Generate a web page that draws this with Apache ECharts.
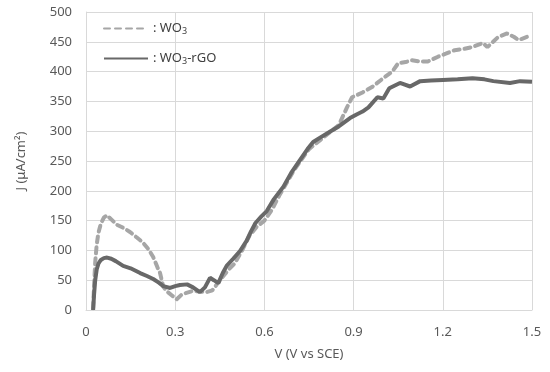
<!DOCTYPE html>
<html>
<head>
<meta charset="utf-8">
<script src="https://cdn.jsdelivr.net/npm/echarts@6/dist/echarts.min.js"></script>
<style>
  html, body { margin: 0; padding: 0; background: #fff; }
  #chart { width: 550px; height: 372px; }
</style>
</head>
<body>
<div id="chart"></div>
<script>
// WO3 (dashed, light grey)
const wo3V = [0.024,0.027,0.031,0.036,0.042,0.05,0.06,0.07,0.085,0.104,0.125,0.148,0.17,0.19,0.21,0.226,0.24,0.249,0.26,0.275,0.29,0.305,0.32,0.333,0.36,0.385,0.406,0.425,0.44,0.462,0.48,0.5,0.525,0.55,0.575,0.6,0.625,0.65,0.7,0.75,0.8,0.85,0.877,0.895,0.93,0.962,1.005,1.03,1.05,1.075,1.096,1.12,1.15,1.184,1.21,1.24,1.27,1.298,1.335,1.35,1.386,1.416,1.44,1.455,1.487];
const wo3J = [3,40,80,110,130,145,155,159,152,143,138,131,122,114,102,89,72,62,39,30,24,18,25,28,32,31,30,33,43,57,68,78,100,125,140,150,168,192,235,270,290,310,339,357,365,374,391,400,414,416,419,417,417,425,430,436,438,441,448,441,458,464,458,453,459];

// WO3-rGO (solid, dark grey)
const rgoV = [0.024,0.027,0.031,0.036,0.042,0.05,0.06,0.071,0.085,0.1,0.125,0.15,0.182,0.205,0.226,0.245,0.26,0.283,0.3,0.316,0.34,0.36,0.383,0.4,0.417,0.43,0.445,0.46,0.473,0.495,0.518,0.54,0.555,0.57,0.59,0.608,0.632,0.664,0.69,0.72,0.745,0.764,0.79,0.82,0.85,0.888,0.91,0.93,0.95,0.98,1.0,1.02,1.056,1.09,1.124,1.16,1.2,1.25,1.3,1.34,1.37,1.426,1.46,1.5];
const rgoJ = [0,25,50,68,78,84,87,88,86,82,74,70,62,57,52,46,40,37,40,42,43,38,30,38,54,50,45,62,74,86,99,116,132,146,157,166,186,207,230,252,270,282,290,299,308,322,328,333,340,357,355,372,381,375,384,385,386,387,389,387,384,381,384,383];

const xTicks = ['0', '0.3', '0.6', '0.9', '1.2', '1.5'];

const zip = (xs, ys) => xs.map((x, i) => [x, ys[i]]);

const chart = echarts.init(document.getElementById('chart'));
const labelColor = '#595959';
const font = 'Noto Sans';

chart.setOption({
  animation: false,
  grid: { left: 86, right: 18, top: 12, bottom: 62 },
  legend: {
    left: 98,
    top: 17,
    orient: 'vertical',
    itemWidth: 44,
    itemHeight: 14,
    itemGap: 16,
    itemStyle: { opacity: 0 },
    data: ['WO3', 'WO3-rGO'],
    formatter: (name) => name === 'WO3' ? ': WO{sub|3}' : ': WO{sub|3}-rGO',
    textStyle: {
      color: '#404040',
      fontFamily: font,
      fontSize: 13,
      rich: {
        sub: { fontSize: 9, verticalAlign: 'bottom', padding: [6, 0, 0, 0], color: '#404040', fontFamily: font }
      }
    }
  },
  xAxis: {
    type: 'value',
    min: 0,
    max: 1.5,
    interval: 0.3,
    name: 'V (V vs SCE)',
    nameLocation: 'middle',
    nameGap: 38,
    nameTextStyle: { color: labelColor, fontFamily: font, fontSize: 13 },
    axisLine: { show: true, lineStyle: { color: '#d9d9d9' } },
    axisTick: { show: false },
    axisLabel: {
      color: labelColor, fontFamily: font, fontSize: 13, margin: 16,
      formatter: (v) => xTicks[Math.round(v / 0.3)]
    },
    splitLine: { show: true, lineStyle: { color: '#d9d9d9' } }
  },
  yAxis: {
    type: 'value',
    min: 0,
    max: 500,
    interval: 50,
    name: 'J (μA/cm²)',
    nameLocation: 'middle',
    nameGap: 58,
    nameRotate: 90,
    nameTextStyle: { color: labelColor, fontFamily: font, fontSize: 13 },
    axisLine: { show: true, lineStyle: { color: '#d9d9d9' } },
    axisTick: { show: false },
    axisLabel: { color: labelColor, fontFamily: font, fontSize: 13, margin: 14 },
    splitLine: { show: true, lineStyle: { color: '#d9d9d9' } }
  },
  series: [
    {
      name: 'WO3',
      type: 'line',
      symbol: 'none',
      data: zip(wo3V, wo3J),
      lineStyle: { color: '#a6a6a6', width: 4, type: [6, 5], cap: 'round' },
      itemStyle: { color: '#a6a6a6' },
      z: 2
    },
    {
      name: 'WO3-rGO',
      type: 'line',
      symbol: 'none',
      data: zip(rgoV, rgoJ),
      lineStyle: { color: '#686868', width: 4 },
      itemStyle: { color: '#686868' },
      z: 3
    }
  ]
});
</script>
</body>
</html>
